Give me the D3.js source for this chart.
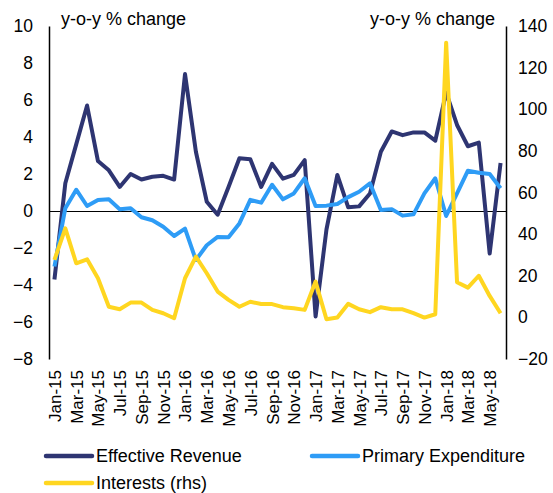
<!DOCTYPE html>
<html>
<head>
<meta charset="utf-8">
<script src="https://cdn.jsdelivr.net/npm/d3@7"></script>
<style>
  body { margin: 0; background: #fff; }
  text { font-family: "Liberation Sans", Arial, sans-serif; fill: #000; }
</style>
</head>
<body>
<div id="chart"></div>
<script>
// Monthly categories, Jan-15 .. Jun-18
const months = ["Jan-15","Feb-15","Mar-15","Apr-15","May-15","Jun-15","Jul-15","Aug-15","Sep-15","Oct-15","Nov-15","Dec-15",
  "Jan-16","Feb-16","Mar-16","Apr-16","May-16","Jun-16","Jul-16","Aug-16","Sep-16","Oct-16","Nov-16","Dec-16",
  "Jan-17","Feb-17","Mar-17","Apr-17","May-17","Jun-17","Jul-17","Aug-17","Sep-17","Oct-17","Nov-17","Dec-17",
  "Jan-18","Feb-18","Mar-18","Apr-18","May-18","Jun-18"]

// y-o-y % change, left axis
const effectiveRevenue = [-3.7, 1.5, 3.6, 5.7, 2.7, 2.2, 1.3, 2.0, 1.7, 1.85, 1.9, 1.7,
  7.4, 3.2, 0.5, -0.2, 1.3, 2.85, 2.8, 1.3, 2.55, 1.75, 1.95, 2.75,
  -5.7, -1.0, 1.95, 0.2, 0.25, 0.95, 3.2, 4.3, 4.1, 4.25, 4.25, 3.8,
  6.4, 4.65, 3.5, 3.7, -2.3, 2.6]

const primaryExpenditure = [-3.0, 0.15, 1.15, 0.27, 0.6, 0.63, 0.1, 0.15, -0.34, -0.5, -0.85, -1.35,
  -0.95, -2.65, -1.85, -1.4, -1.42, -0.67, 0.6, 0.45, 1.42, 0.63, 0.95, 1.77,
  0.27, 0.29, 0.38, 0.75, 1.04, 1.5, 0.05, 0.1, -0.25, -0.18, 0.95, 1.77,
  -0.27, 0.95, 2.18, 2.07, 2.0, 1.23]

// y-o-y % change, right axis
const interests = [27.6, 42.8, 26, 27.9, 18.8, 5.1, 3.9, 7.1, 7.1, 3.6, 2.0, -0.4,
  18.8, 29.2, 21.2, 12.4, 8.4, 5.1, 7.5, 6.4, 6.4, 4.9, 4.4, 3.6,
  17.2, -0.9, -0.1, 6.5, 3.9, 2.5, 4.9, 3.9, 3.9, 2.0, -0.1, 1.5,
  132, 16.9, 14.3, 20, 10.3, 2.0]

const leftTicks = [-8, -6, -4, -2, 0, 2, 4, 6, 8, 10]
const rightTicks = [-20, 0, 20, 40, 60, 80, 100, 120, 140]

const seriesNames = ["Effective Revenue", "Primary Expenditure", "Interests (rhs)"]
const colors = ["#2e3572", "#2e9cf6", "#ffd620"]

const width = 553
const height = 493
const plotLeft = 49
const plotRight = 506
const plotTop = 26
const plotBottom = 359

let svg = d3.select("#chart")
  .append("svg")
  .attr("width", width)
  .attr("height", height)

let x = d3.scalePoint()
  .domain(months)
  .range([plotLeft, plotRight])
  .padding(0.5)

let yLeft = d3.scaleLinear().domain([-8, 10]).range([plotBottom, plotTop])
let yRight = d3.scaleLinear().domain([-20, 140]).range([plotBottom, plotTop])

// left axis
let gLeft = svg.append("g")
  .attr("transform", `translate(${plotLeft},0)`)
  .call(d3.axisLeft(yLeft).tickValues(leftTicks).tickSize(0).tickPadding(16).tickFormat(d3.format("d")))
gLeft.select(".domain").attr("stroke", "#000").attr("stroke-width", 1.5)
gLeft.selectAll("text").style("font-size", "17.5px").style("font-family", "Liberation Sans, Arial, sans-serif")

// right axis
let gRight = svg.append("g")
  .attr("transform", `translate(${plotRight},0)`)
  .call(d3.axisRight(yRight).tickValues(rightTicks).tickSize(0).tickPadding(12).tickFormat(d3.format("d")))
gRight.select(".domain").attr("stroke", "#000").attr("stroke-width", 1.5)
gRight.selectAll("text").style("font-size", "17.5px").style("font-family", "Liberation Sans, Arial, sans-serif")

// zero line
svg.append("line")
  .attr("x1", plotLeft)
  .attr("x2", plotRight)
  .attr("y1", yLeft(0))
  .attr("y2", yLeft(0))
  .attr("stroke", "#000")
  .attr("stroke-width", 1)
  .attr("shape-rendering", "crispEdges")

// month labels, every second month
let gX = svg.append("g")
  .attr("transform", `translate(0,370)`)
  .call(d3.axisBottom(x).tickValues(months.filter((d, i) => i % 2 === 0)).tickSize(0).tickPadding(0))
gX.select(".domain").remove()
gX.selectAll("text")
  .style("font-size", "17px")
  .style("font-family", "Liberation Sans, Arial, sans-serif")
  .attr("text-anchor", "end")
  .attr("transform", "rotate(-90)")
  .attr("x", 0)
  .attr("y", 0)
  .attr("dy", "0.35em")

// axis titles
svg.append("text")
  .attr("x", 61)
  .attr("y", 25)
  .style("font-size", "18px")
  .text("y-o-y % change")
svg.append("text")
  .attr("x", 495)
  .attr("y", 25)
  .attr("text-anchor", "end")
  .style("font-size", "18px")
  .text("y-o-y % change")

// lines
const lineLeft = d3.line().x((d, i) => x(months[i])).y(d => yLeft(d))
const lineRight = d3.line().x((d, i) => x(months[i])).y(d => yRight(d))

svg.append("path")
  .datum(effectiveRevenue)
  .attr("fill", "none")
  .attr("stroke", colors[0])
  .attr("stroke-width", 4)
  .attr("stroke-linejoin", "round")
  .attr("d", lineLeft)

svg.append("path")
  .datum(primaryExpenditure)
  .attr("fill", "none")
  .attr("stroke", colors[1])
  .attr("stroke-width", 4)
  .attr("stroke-linejoin", "round")
  .attr("d", lineLeft)

svg.append("path")
  .datum(interests)
  .attr("fill", "none")
  .attr("stroke", colors[2])
  .attr("stroke-width", 4)
  .attr("stroke-linejoin", "round")
  .attr("d", lineRight)

// legend
const legendPos = [[46, 456], [312, 456], [46, 483]]
let legend = svg.selectAll(".legend")
  .data(seriesNames)
  .enter()
  .append("g")
  .attr("class", "legend")
  .attr("transform", (d, i) => `translate(${legendPos[i][0]},${legendPos[i][1]})`)

legend.append("line")
  .attr("x1", 0)
  .attr("x2", 46)
  .attr("stroke", (d, i) => colors[i])
  .attr("stroke-width", 4.5)
  .attr("stroke-linecap", "round")

legend.append("text")
  .attr("x", 50)
  .attr("dy", "0.35em")
  .style("font-size", "18px")
  .text(d => d)
</script>
</body>
</html>
